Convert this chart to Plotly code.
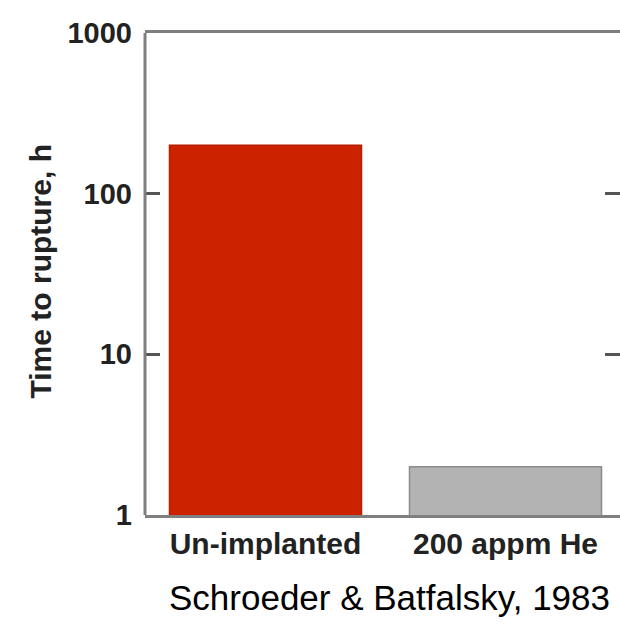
import plotly.graph_objects as go

# data
categories = ["Un-implanted", "200 appm He"]
rupture_hours = [200, 2]
bar_colors = ["#CC2200", "#B3B3B3"]
bar_edges = ["#B51E00", "#8C8C8C"]
y_ticks = [1, 10, 100, 1000]

sans = "Liberation Sans, Arial"
axis_grey = "#7F7F7F"
tick_grey = "#555555"

fig = go.Figure()
fig.add_trace(go.Bar(
    x=categories,
    y=rupture_hours,
    width=0.8,
    marker=dict(color=bar_colors, line=dict(color=bar_edges, width=1.5)),
    showlegend=False,
))

fig.update_layout(
    width=620, height=627,
    margin=dict(l=145, r=0, t=33, b=112),
    paper_bgcolor="white", plot_bgcolor="white",
    xaxis=dict(
        range=[-0.502, 1.477],
        showline=True, mirror=True, linecolor=axis_grey, linewidth=3,
        ticks="", showgrid=False, zeroline=False,
        tickfont=dict(family=sans, size=30, color="#222", weight="bold"),
        ticklabelstandoff=0,
    ),
    yaxis=dict(
        type="log", range=[0, 3],
        tickvals=y_ticks, ticktext=[str(v) for v in y_ticks],
        showline=False, mirror="ticks",
        ticks="inside", ticklen=15, tickwidth=3, tickcolor=tick_grey,
        showgrid=False, zeroline=False,
        tickfont=dict(family=sans, size=29, color="#222", weight="bold"),
        ticklabelstandoff=12,
    ),
)

# left axis line only (no right spine in the reference)
fig.add_shape(type="line", xref="paper", yref="paper", x0=0, x1=0, y0=0, y1=1,
              line=dict(color=axis_grey, width=3))

fig.add_annotation(
    text="Time to rupture, h", textangle=-90,
    xref="paper", yref="paper", x=(39.5 - 145) / 475, y=(515 - 272) / 482,
    xanchor="center", yanchor="middle", showarrow=False,
    font=dict(family=sans, size=30, color="#222", weight="bold"),
)
fig.add_annotation(
    text="Schroeder &amp; Batfalsky, 1983",
    xref="paper", yref="paper", x=(389 - 145) / 475, y=(515 - 597) / 482,
    xanchor="center", yanchor="middle", showarrow=False,
    font=dict(family=sans, size=35, color="black"),
)

# drop the default 8px page margin so the figure fills the window
fig.write_html("out.html", config={"displayModeBar": False},
               post_script="document.body.style.margin='0';")
